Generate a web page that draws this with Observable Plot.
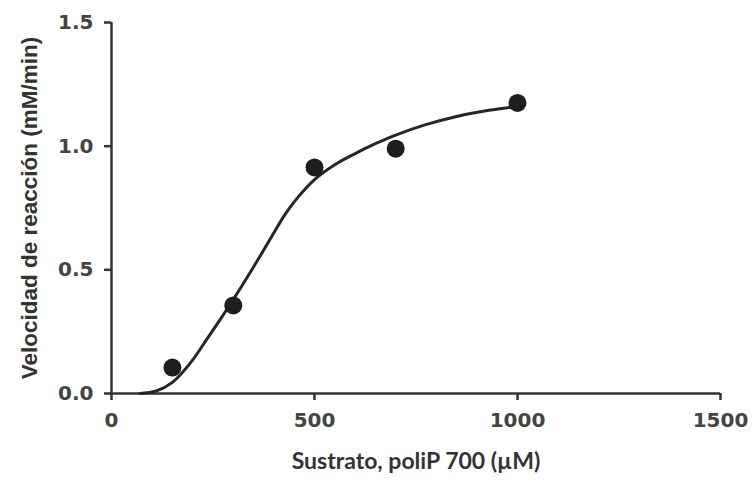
<!DOCTYPE html>
<html>
<head>
<meta charset="utf-8">
<script src="https://cdn.jsdelivr.net/npm/d3@7"></script>
<script src="https://cdn.jsdelivr.net/npm/@observablehq/plot@0.6"></script>
<style>
  html, body { margin: 0; padding: 0; background: #fff; }
  [aria-label$="tick label"] { fill: #444; }
</style>
</head>
<body>
<div id="chart"></div>
<script>
// Measured data points
const substrate = [150, 300, 500, 700, 1000];
const velocity = [0.105, 0.356, 0.914, 0.99, 1.175];

// Fitted curve
const curveX = [70, 110, 150, 195, 235, 270, 300, 340, 375, 400, 430, 460, 500, 550, 600, 650, 700, 770, 850, 930, 1000];
const curveY = [0.0, 0.01, 0.045, 0.125, 0.22, 0.305, 0.38, 0.485, 0.58, 0.65, 0.73, 0.795, 0.865, 0.925, 0.97, 1.01, 1.045, 1.085, 1.12, 1.145, 1.16];

const xTicks = [0, 500, 1000, 1500];
const yTicks = [0, 0.5, 1.0, 1.5];
const xTitle = "Sustrato, poliP 700 (µM)";
const yTitle = "Velocidad de reacción (mM/min)";

const points = substrate.map((x, i) => ({x, y: velocity[i]}));
const curve = curveX.map((x, i) => ({x, y: curveY[i]}));

const axisColor = "#333";

const chart = Plot.plot({
  width: 753,
  height: 486,
  marginLeft: 111,
  marginRight: 33,
  marginTop: 22,
  marginBottom: 93,
  style: {background: "#fff", overflow: "visible"},
  x: {domain: [0, 1500]},
  y: {domain: [0, 1.5]},
  marks: [
    Plot.ruleX([0], {y1: 0, y2: 1.5, stroke: axisColor, strokeWidth: 2.5}),
    Plot.ruleY([0], {x1: 0, x2: 1500, stroke: axisColor, strokeWidth: 2.5}),
    Plot.axisX({ticks: xTicks, tickFormat: d3.format("d"), tickSize: 7, tickPadding: 12,
      fontSize: 20, fontWeight: "bold", fontFamily: "DejaVu Sans", color: axisColor,
      strokeWidth: 2.5, label: null}),
    Plot.axisY({ticks: yTicks, tickFormat: d3.format(".1f"), tickSize: 7, tickPadding: 11,
      fontSize: 20, fontWeight: "bold", fontFamily: "DejaVu Sans", color: axisColor,
      strokeWidth: 2.5, label: null}),
    Plot.line(curve, {x: "x", y: "y", curve: "catmull-rom", stroke: "#262626", strokeWidth: 3}),
    Plot.dot(points, {x: "x", y: "y", r: 9, fill: "#1e1e1e", stroke: "none"}),
    Plot.text([xTitle], {frameAnchor: "bottom", dy: 75, fontSize: 23, fontWeight: "bold",
      fontFamily: "Lato", fill: "#333"}),
    Plot.text([yTitle], {frameAnchor: "left", textAnchor: "middle", rotate: -90, dx: -82, fontSize: 22.5, fontWeight: "bold",
      fontFamily: "Liberation Sans", fill: "#333"})
  ]
});
document.getElementById("chart").appendChild(chart);
</script>
</body>
</html>
